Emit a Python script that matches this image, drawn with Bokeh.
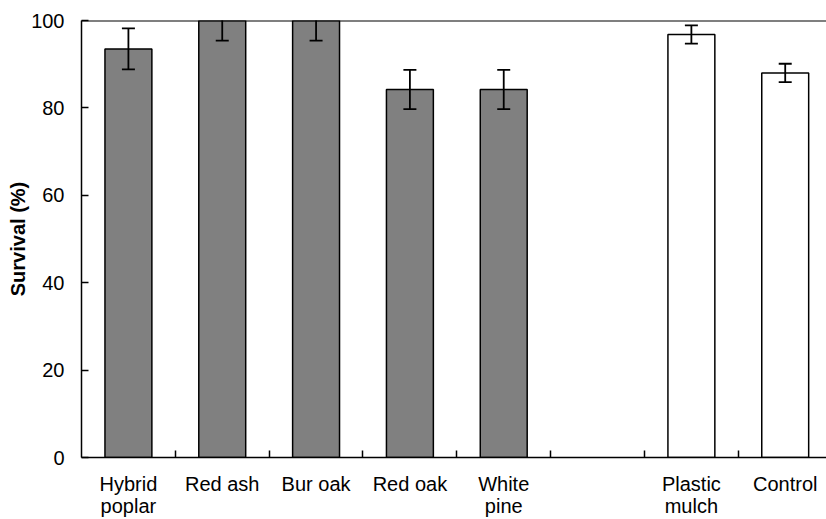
from bokeh.plotting import figure
from bokeh.models import Range1d, FixedTicker, ColumnDataSource, Span
from bokeh.embed import file_html
from bokeh.resources import INLINE

categories = ["Hybrid\npoplar", "Red ash", "Bur oak", "Red oak", "White\npine", "", "Plastic\nmulch", "Control"]
positions = [0.5, 1.5, 2.5, 3.5, 4.5, 5.5, 6.5, 7.5]
survival = [93.5, 100.0, 100.0, 84.2, 84.2, None, 96.8, 88.0]
errors = [4.7, 4.6, 4.6, 4.5, 4.5, None, 2.1, 2.1]
fills = ["#808080", "#808080", "#808080", "#808080", "#808080", None, "#ffffff", "#ffffff"]

xs, ys, es, fs, labs = [], [], [], [], []
for x, y, e, f, c in zip(positions, survival, errors, fills, categories):
    if y is None:
        continue
    xs.append(x); ys.append(y); es.append(e); fs.append(f); labs.append(c)

src = ColumnDataSource(dict(x=xs, top=ys, fill=fs,
                            upper=[y + e for y, e in zip(ys, es)],
                            lower=[y - e for y, e in zip(ys, es)]))

p = figure(width=826, height=519, output_backend="svg", toolbar_location=None,
           x_range=Range1d(0, 7.94), y_range=Range1d(0, 100),
           min_border_left=81, min_border_right=0, min_border_top=20, min_border_bottom=61)
p.outline_line_color = None
p.grid.visible = False
p.background_fill_color = "white"
p.border_fill_color = "white"

p.vbar(x="x", top="top", width=0.5, bottom=0, source=src, fill_color="fill",
       line_color="black", line_width=1.5)

# error bars drawn above the bars
p.segment(x0="x", y0="lower", x1="x", y1="upper", source=src, line_color="black", line_width=1.8)
p.scatter(x="x", y="upper", source=src, marker="dash", size=13, line_color="black", line_width=1.8)
p.scatter(x="x", y="lower", source=src, marker="dash", size=13, line_color="black", line_width=1.8)

p.add_layout(Span(location=100, dimension="width", line_color="black", line_width=2))

# y axis
ya = p.yaxis[0]
ya.ticker = FixedTicker(ticks=[0, 20, 40, 60, 80, 100])
ya.major_tick_in = 7
ya.major_tick_out = 0
ya.minor_tick_line_color = None
ya.major_label_standoff = 17
ya.axis_label = "Survival (%)"
ya.axis_label_text_font = "Liberation Sans"
ya.axis_label_text_font_style = "bold"
ya.axis_label_text_font_size = "20px"
ya.axis_label_text_color = "black"
ya.axis_label_standoff = -1
ya.major_label_text_font = "Liberation Sans"
ya.major_label_text_font_size = "20px"
ya.major_label_text_color = "black"
ya.axis_line_width = 1.5
ya.major_tick_line_width = 1.5

# x axis: labels at category centres, boundary ticks as minor ticks
xa = p.xaxis[0]
xa.ticker = FixedTicker(ticks=xs, minor_ticks=[1, 2, 3, 4, 5, 6, 7])
xa.major_label_overrides = {x: l for x, l in zip(xs, labs)}
xa.major_tick_in = 0
xa.major_tick_out = 0
xa.minor_tick_in = 7
xa.minor_tick_out = 0
xa.minor_tick_line_width = 1.5
xa.axis_line_width = 1.5
xa.major_label_standoff = 15
xa.major_label_text_font = "Liberation Sans"
xa.major_label_text_font_size = "20px"
xa.major_label_text_color = "black"
xa.major_label_text_line_height = 1.0

open("out.html", "w").write(file_html(p, INLINE))
